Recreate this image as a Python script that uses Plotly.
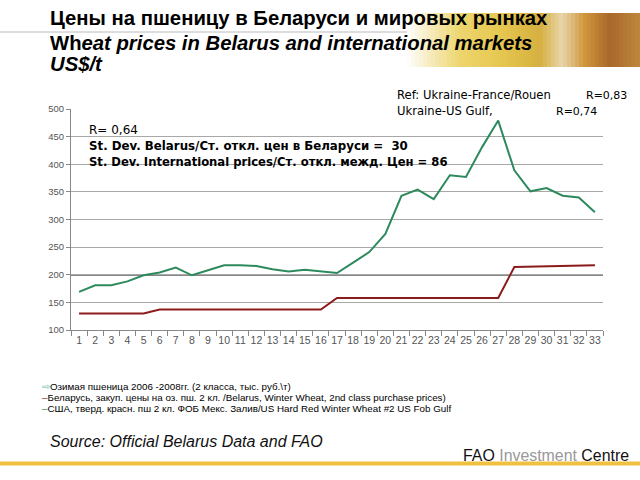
import plotly.graph_objects as go

categories = [str(i) for i in range(1, 34)]
belarus = [130, 130, 130, 130, 130, 137, 137, 137, 137, 137, 137, 137, 137, 137, 137, 137,
           158, 158, 158, 158, 158, 158, 158, 158, 158, 158, 158,
           214, 214.5, 215, 216, 217, 217]
us_gulf = [169, 181, 181, 188, 199, 204, 213, 199, 208, 217, 217, 216, 210, 206, 209, 206,
           203, 222, 241, 274, 343, 354, 337, 380, 377, 431, 479, 389, 351, 357, 343, 340, 313]
y_ticks = [100, 150, 200, 250, 300, 350, 400, 450, 500]

name_winter = "Озимая пшеница 2006 -2008гг. (2 класса, тыс. руб.\\т)"
name_belarus = "Беларусь, закуп. цены на оз. пш. 2 кл. /Belarus, Winter Wheat, 2nd class purchase prices)"
name_us = "США, тверд. красн. пш 2 кл. ФОБ Мекс. Залив/US Hard Red Winter Wheat #2 US Fob Gulf"

RED = "#8C1C1C"
GREEN = "#2E8A5E"

L, R, T, B = 71, 37, 109, 150
W, H = 640, 480
PW, PH = W - L - R, H - T - B

ARIAL = "Liberation Sans, Arial, sans-serif"
DEJAVU = "DejaVu Sans, Verdana, sans-serif"


def px(x):
    return (x - L) / PW


def py(y):
    return (H - B - y) / PH


fig = go.Figure()
fig.add_trace(go.Scatter(x=categories, y=belarus, mode="lines", name=name_belarus,
                         line=dict(color=RED, width=2), showlegend=False))
fig.add_trace(go.Scatter(x=categories, y=us_gulf, mode="lines", name=name_us,
                         line=dict(color=GREEN, width=2), showlegend=False))

shapes = []
shapes.append(dict(type="line", xref="paper", yref="y", x0=0, x1=1, y0=200, y1=200,
                   line=dict(color="#111111", width=1.3), layer="below"))

stops = [(407, (255, 255, 255)), (430, (246, 236, 190)), (460, (238, 214, 110)),
         (500, (230, 200, 80)), (540, (214, 176, 64)), (562, (232, 214, 170)),
         (585, (208, 150, 60)), (610, (168, 104, 44)), (640, (190, 136, 60))]


def col_at(x):
    for (x0, c0), (x1, c1) in zip(stops[:-1], stops[1:]):
        if x0 <= x <= x1:
            t = (x - x0) / (x1 - x0)
            return "rgb(%d,%d,%d)" % tuple(int(c0[i] + (c1[i] - c0[i]) * t) for i in range(3))
    return "rgb(190,136,60)"


step = 4
xx = 407
while xx < 640:
    shapes.append(dict(type="rect", xref="paper", yref="paper", x0=px(xx), x1=px(min(xx + step, 640)),
                       y0=py(67), y1=py(13), fillcolor=col_at(xx + step / 2), line=dict(width=0),
                       layer="below"))
    xx += step
shapes.append(dict(type="line", xref="paper", yref="paper", x0=px(0), x1=px(407), y0=py(32), y1=py(32),
                   line=dict(color="#BBBBBB", width=1)))
shapes.append(dict(type="line", xref="paper", yref="paper", x0=px(0), x1=px(640), y0=py(463.5), y1=py(463.5),
                   line=dict(color="#F0C040", width=4)))

ann = []


def A(x, y, text, size, color="#000000", family=ARIAL, xanchor="left"):
    ann.append(dict(xref="paper", yref="paper", x=px(x), y=py(y), text=text, showarrow=False,
                    xanchor=xanchor, yanchor="middle", align="left",
                    font=dict(size=size, color=color, family=family)))


A(48, 18, "<b>Цены на пшеницу в Беларуси и мировых рынках</b>", 20.3)
A(48, 43, "<b>Wh</b><b><i>eat prices in Belarus and international markets</i></b>", 20.3)
A(48, 64, "<b><i>US$/t</i></b>", 20.3)

A(87, 130, "R= 0,64", 12, family=DEJAVU)
A(87, 146, "<b>St. Dev. Belarus/Ст. откл. цен в Беларуси =  30</b>", 11.8, family=DEJAVU)
A(87, 162, "<b>St. Dev. International prices/Ст. откл. межд. Цен = 86</b>", 11.6, family=DEJAVU)

A(395, 95, "Ref: Ukraine-France/Rouen", 11.6, family=DEJAVU)
A(629, 95, "R=0,83", 11, family=DEJAVU, xanchor="right")
A(395, 111, "Ukraine-US Gulf,", 11.6, family=DEJAVU)
A(599, 111, "R=0,74", 11, family=DEJAVU, xanchor="right")

A(40, 386, "<span style='color:#5FB8B0'>⇨</span>" + name_winter, 9.8)
A(40, 397, "<span style='color:%s'>–</span>" % RED + name_belarus, 9.8)
A(40, 408, "<span style='color:%s'>–</span>" % GREEN + name_us, 9.8)

A(48, 441, "<i>Source: Official Belarus Data and FAO</i>", 16, color="#111111")
A(631, 455, "FAO <span style='color:#999999'>Investment</span> Centre", 15.9, color="#111111",
  xanchor="right")

fig.update_layout(
    width=W, height=H,
    margin=dict(l=L, r=R, t=T, b=B, pad=0),
    paper_bgcolor="white", plot_bgcolor="white",
    showlegend=False,
    shapes=shapes, annotations=ann,
    font=dict(family=ARIAL),
)
fig.update_xaxes(type="category", tickson="boundaries", ticks="outside", ticklen=5,
                 tickcolor="#888888", showline=True, linecolor="#888888", showgrid=False,
                 tickangle=0, tickfont=dict(size=10.5, color="#555555"), range=[-0.5, 32.5])
fig.update_yaxes(range=[100, 500], tickvals=y_ticks, ticks="outside", ticklen=4,
                 tickcolor="#888888", showline=True, linecolor="#888888",
                 showgrid=True, gridcolor="#A8A8A8", gridwidth=1,
                 tickfont=dict(size=9.5, color="#555555"), zeroline=False)

fig.write_html("out.html", config={"displayModeBar": False},
               post_script="document.body.style.margin='0';")
